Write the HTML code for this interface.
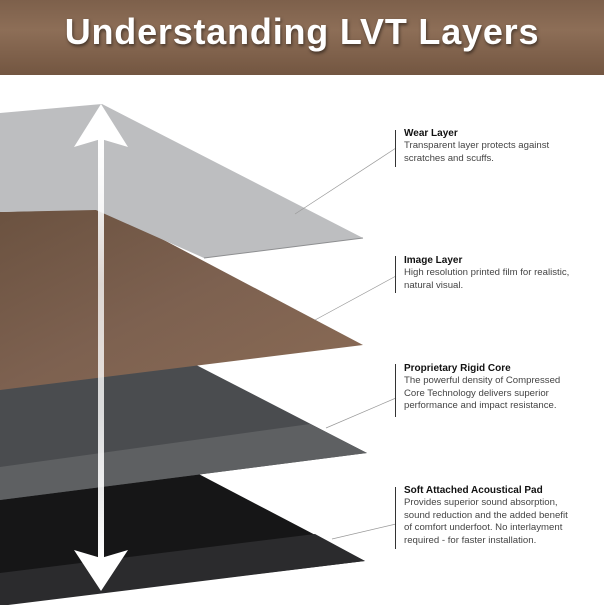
<!DOCTYPE html>
<html><head><meta charset="utf-8"><style>
html,body{margin:0;padding:0;background:#fff;}
body{width:604px;height:605px;position:relative;overflow:hidden;font-family:"Liberation Sans",sans-serif;}
.hdr{position:absolute;left:0;top:0;width:604px;height:75px;background:linear-gradient(180deg,#7d604b 0%,#8d6e57 40%,#735641 100%);}
.title{position:absolute;left:0;top:11px;width:604px;text-align:center;color:#fff;font-weight:bold;font-size:36px;letter-spacing:0.8px;text-shadow:1px 2px 3px rgba(0,0,0,.5);}
.lab{position:absolute;left:404px;font-size:9.6px;line-height:12.4px;color:#444;}
.lab b{color:#111;font-size:10px;}
.bar{position:absolute;left:395px;width:1px;background:#333;}
</style></head><body>
<div class="hdr"></div>
<div class="title">Understanding LVT Layers</div>
<svg width="604" height="605" style="position:absolute;left:0;top:0">
<defs>
<linearGradient id="wood" x1="0" y1="0" x2="1" y2="1">
<stop offset="0" stop-color="#6b5240"/><stop offset="0.5" stop-color="#7d6150"/><stop offset="1" stop-color="#8a6b55"/></linearGradient>
<linearGradient id="ar" x1="0" y1="0" x2="0" y2="1">
<stop offset="0" stop-color="#fff"/><stop offset="0.35" stop-color="#fff" stop-opacity="0.75"/><stop offset="0.65" stop-color="#fff" stop-opacity="0.8"/><stop offset="1" stop-color="#fff"/></linearGradient>
</defs>
<!-- pad -->
<polygon points="105,425 0,428 0,605 365,561" fill="#161617"/>
<polygon points="0,573 315,534 365,561 0,606" fill="#2b2b2d"/>
<!-- core -->
<polygon points="105,318 0,322 0,500 367,453" fill="#4a4c4f"/>
<polygon points="0,467 310,424 367,453 0,500" fill="#5e6062"/>
<!-- wood -->
<polygon points="105,209 0,212 0,390 363,345" fill="url(#wood)"/>
<!-- wear -->
<polygon points="102,104 0,113 0,212 96,210 204,258 363,238" fill="#bdbec0"/>
<polyline points="363,238 204,258" stroke="#8e8f91" stroke-width="1" fill="none"/>
<!-- leaders -->
<g stroke="#999" stroke-width="0.7" fill="none">
<line x1="396" y1="148" x2="295" y2="214"/>
<line x1="396" y1="276" x2="315" y2="320"/>
<line x1="396" y1="398" x2="326" y2="428"/>
<line x1="396" y1="524" x2="332" y2="539"/>
</g>
<!-- arrow -->
<rect x="98" y="136" width="6" height="424" fill="url(#ar)"/>
<polygon points="101,104 128,147 101,139 74,147" fill="#fff"/>
<polygon points="101,591 128,550 101,558 74,550" fill="#fff"/>
</svg>
<div class="bar" style="top:130px;height:37px"></div>
<div class="lab" style="top:128px"><b>Wear Layer</b><br>Transparent layer protects against<br>scratches and scuffs.</div>
<div class="bar" style="top:256px;height:37px"></div>
<div class="lab" style="top:255px"><b>Image Layer</b><br>High resolution printed film for realistic,<br>natural visual.</div>
<div class="bar" style="top:364px;height:53px"></div>
<div class="lab" style="top:363px"><b>Proprietary Rigid Core</b><br>The powerful density of Compressed<br>Core Technology delivers superior<br>performance and impact resistance.</div>
<div class="bar" style="top:487px;height:62px"></div>
<div class="lab" style="top:485px"><b>Soft Attached Acoustical Pad</b><br>Provides superior sound absorption,<br>sound reduction and the added benefit<br>of comfort underfoot. No interlayment<br>required - for faster installation.</div>
</body></html>
